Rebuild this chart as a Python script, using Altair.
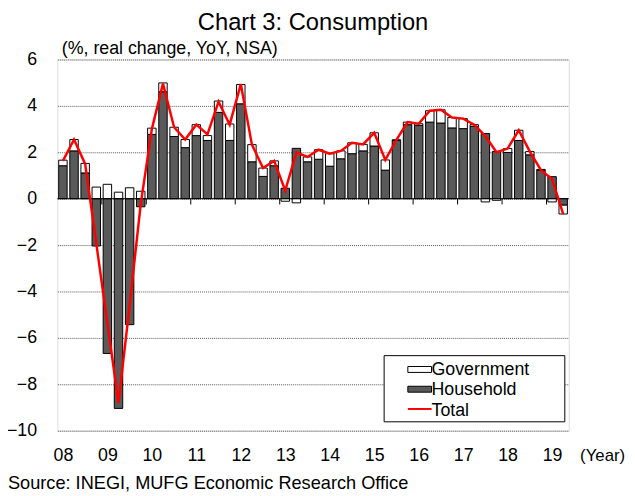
import altair as alt
import pandas as pd

# ---- data (2008Q1 .. 2019Q2, quarterly) ----
year_labels = ["08", "09", "10", "11", "12", "13", "14", "15", "16", "17", "18", "19"]

household = [1.42, 2.06, 1.11, -2.04, -6.67, -9.04, -5.43, -0.35,
             2.77, 4.61, 2.68, 2.20, 2.72, 2.51, 3.72, 2.51,
             4.09, 1.59, 0.96, 1.42, 0.45, 2.17, 1.59, 1.70,
             1.40, 1.72, 1.94, 2.06, 2.27, 1.23, 2.51, 3.19,
             3.16, 3.30, 3.26, 3.05, 3.02, 3.12, 2.81, 2.03,
             1.99, 2.51, 1.89, 1.23, 0.95, -0.28]

government = [0.24, 0.49, 0.41, 0.50, 0.62, 0.28, 0.47, 0.32,
              0.27, 0.38, 0.40, 0.35, 0.47, 0.21, 0.49, 0.71,
              0.83, 0.74, 0.36, 0.21, -0.11, -0.18, 0.21, 0.41,
              0.54, 0.34, 0.47, 0.28, 0.57, 0.44, 0.03, 0.11,
              0.07, 0.49, 0.57, 0.45, 0.43, 0.07, -0.14, -0.07,
              0.17, 0.44, 0.14, 0.03, -0.14, -0.38]

total = [1.63, 2.55, 1.50, -1.92, -5.37, -8.80, -4.60, -0.22,
         3.00, 4.96, 3.08, 2.55, 3.19, 2.77, 4.18, 3.19,
         4.94, 2.33, 1.32, 1.63, 0.35, 1.99, 1.80, 2.11,
         1.94, 2.06, 2.41, 2.34, 2.84, 1.67, 2.54, 3.30,
         3.23, 3.79, 3.83, 3.50, 3.45, 3.19, 2.70, 2.00,
         2.16, 2.95, 2.03, 1.23, 0.85, -0.67]

series_names = ["Government", "Household", "Total"]
title_text = "Chart 3: Consumption"
unit_text = "(%, real change, YoY, NSA)"
xunit_text = "(Year)"
source_text = "Source: INEGI, MUFG Economic Research Office"

# ---- tables built from the arrays ----
n = len(household)
rows = []
for i in range(n):
    hh = household[i]
    gv = government[i]
    rows.append({"series": "Household", "x0": i + 0.12, "x1": i + 0.88, "y0": 0.0, "y1": hh})
    base = hh if (hh >= 0) == (gv >= 0) else 0.0
    rows.append({"series": "Government", "x0": i + 0.12, "x1": i + 0.88, "y0": base, "y1": base + gv})
bars_df = pd.DataFrame(rows)
line_df = pd.DataFrame({"xc": [i + 0.5 for i in range(n)], "total": total})
ticks_df = pd.DataFrame({"b": [4 * k for k in range(1, len(year_labels))],
                         "t0": [0.0] * (len(year_labels) - 1),
                         "t1": [-0.25] * (len(year_labels) - 1)})

FONT = "Liberation Sans"
FS = 18

label_expr = "[" + ",".join("'%s'" % y for y in year_labels) + "][floor(datum.value/4)]"

xscale = alt.Scale(domain=[0, n], nice=False, zero=False)
yscale = alt.Scale(domain=[-10, 6], nice=False, zero=False)

bars = alt.Chart(bars_df).mark_bar(stroke="black", strokeWidth=1).encode(
    x=alt.X("x0:Q", scale=xscale,
            axis=alt.Axis(values=[4 * k + 0.5 for k in range(len(year_labels))],
                          labelExpr=label_expr, grid=False, ticks=False, tickSize=0,
                          domain=False, labelFontSize=FS, labelFont=FONT, labelColor="black",
                          labelPadding=30, labelBaseline="alphabetic", labelFlush=False,
                          labelOverlap=False,
                          title=xunit_text, titleX=529, titleY=30, titleAlign="left",
                          titleBaseline="alphabetic", titleFontWeight="normal",
                          titleFontSize=17, titleFont=FONT, titleColor="black")),
    x2="x1:Q",
    y=alt.Y("y0:Q", scale=yscale,
            axis=alt.Axis(values=list(range(-10, 7, 2)), grid=True, gridDash=[1, 1],
                          gridColor="#555555", gridWidth=1, ticks=False, tickSize=0,
                          domain=False, labelFontSize=FS, labelFont=FONT, labelColor="black",
                          labelPadding=21,
                          title=unit_text, titleAngle=0, titleX=4, titleY=-6,
                          titleAlign="left", titleBaseline="alphabetic",
                          titleFontWeight="normal", titleFontSize=FS, titleFont=FONT,
                          titleColor="black")),
    y2="y1:Q",
    fill=alt.Fill("series:N", scale=alt.Scale(domain=["Household", "Government"],
                                              range=["#5a5a5a", "white"]), legend=None),
)

zero_rule = alt.Chart(pd.DataFrame({"z": [0.0]})).mark_rule(color="black", strokeWidth=1).encode(
    y=alt.Y("z:Q")
)

year_ticks = alt.Chart(ticks_df).mark_rule(color="black", strokeWidth=1).encode(
    x=alt.X("b:Q"),
    y=alt.Y("t0:Q"),
    y2="t1:Q",
)

line = alt.Chart(line_df).mark_line(color="#ff0000", strokeWidth=2.5).encode(
    x=alt.X("xc:Q"),
    y=alt.Y("total:Q"),
)

one = pd.DataFrame({"k": [0]})

leg_frame = alt.Chart(one).mark_rect(fill="white", stroke="black", strokeWidth=1).encode(
    x=alt.value(331), x2=alt.value(514), y=alt.value(300), y2=alt.value(367)
)
leg_gov = alt.Chart(one).mark_rect(fill="white", stroke="black", strokeWidth=1).encode(
    x=alt.value(355), x2=alt.value(379), y=alt.value(311), y2=alt.value(317)
)
leg_hh = alt.Chart(one).mark_rect(fill="#5a5a5a", stroke="black", strokeWidth=1).encode(
    x=alt.value(355), x2=alt.value(379), y=alt.value(331), y2=alt.value(337)
)
leg_tot = alt.Chart(one).mark_rule(color="#ff0000", strokeWidth=2).encode(
    x=alt.value(355), x2=alt.value(379), y=alt.value(354)
)


def leg_label(txt, ypix):
    return alt.Chart(pd.DataFrame({"label": [txt]})).mark_text(
        align="left", baseline="alphabetic", fontSize=FS, font=FONT, color="black"
    ).encode(text="label:N", x=alt.value(379), y=alt.value(ypix))


leg_t1 = leg_label(series_names[0], 320)
leg_t2 = leg_label(series_names[1], 340)
leg_t3 = leg_label(series_names[2], 361)

title = alt.Chart(pd.DataFrame({"t": [title_text]})).mark_text(
    align="center", baseline="alphabetic", fontSize=24, font=FONT, color="black"
).encode(text="t:N", x=alt.value(259), y=alt.value(-30))

source = alt.Chart(pd.DataFrame({"t": [source_text]})).mark_text(
    align="left", baseline="alphabetic", fontSize=18.4, font=FONT, color="black"
).encode(text="t:N", x=alt.value(-50), y=alt.value(435))

chart = alt.layer(
    bars, zero_rule, year_ticks, line,
    leg_frame, leg_gov, leg_hh, leg_tot, leg_t1, leg_t2, leg_t3,
    title, source,
).properties(
    width=518, height=376,
    autosize=alt.AutoSizeParams(type="none"),
    padding={"left": 50, "top": 49, "right": 59, "bottom": 62},
).configure_view(stroke="black", strokeWidth=1).configure(font=FONT)

chart.save("out.html", embed_options={"renderer": "svg", "actions": False})
